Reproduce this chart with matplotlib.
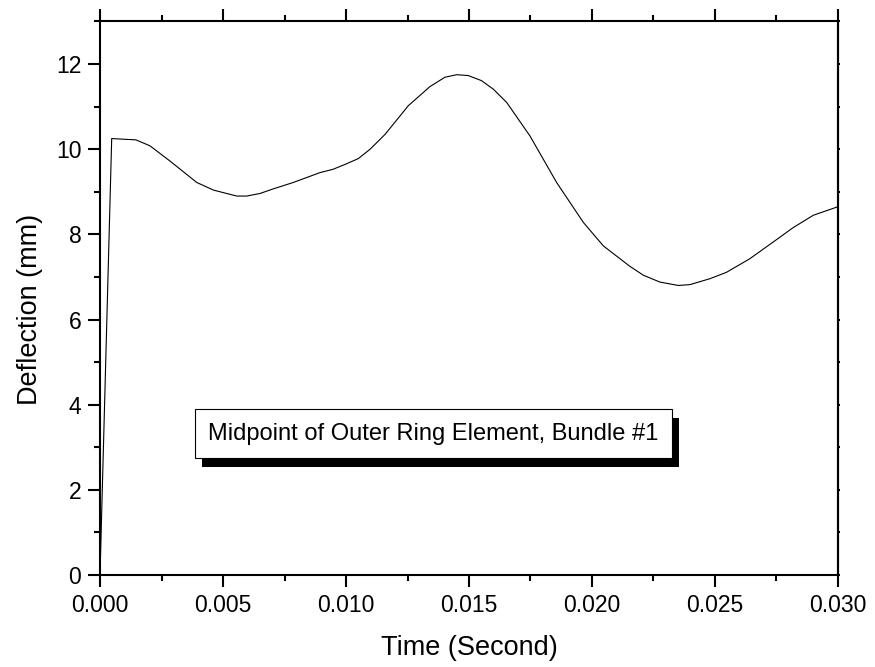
import matplotlib
matplotlib.use("Agg")
import matplotlib.pyplot as plt
import matplotlib.patheffects as pe
from matplotlib import font_manager
from matplotlib.ticker import MultipleLocator

plt.rcParams['font.family'] = ['Liberation Sans', 'DejaVu Sans']

# Midpoint deflection history (time in s, deflection in mm)
time_s = [0.0, 0.000475, 0.00146, 0.00203, 0.00285, 0.00393, 0.00461, 0.00556,
          0.00596, 0.0065, 0.00705, 0.00786, 0.00894, 0.00948, 0.01003, 0.0105,
          0.01098, 0.01159, 0.01253, 0.01341, 0.01402, 0.0145, 0.01497, 0.01551,
          0.01599, 0.01653, 0.01748, 0.01856, 0.01965, 0.02046, 0.02154, 0.02209,
          0.02276, 0.02351, 0.02398, 0.0248, 0.02547, 0.02642, 0.02751, 0.02818,
          0.029, 0.03]
deflection_mm = [0.0, 10.25, 10.22, 10.08, 9.72, 9.22, 9.04, 8.90,
                 8.90, 8.96, 9.07, 9.22, 9.45, 9.53, 9.66, 9.78,
                 10.0, 10.35, 11.02, 11.47, 11.69, 11.75, 11.73, 11.61,
                 11.41, 11.10, 10.31, 9.22, 8.28, 7.73, 7.25, 7.04,
                 6.88, 6.80, 6.82, 6.96, 7.11, 7.43, 7.88, 8.16,
                 8.45, 8.65]

x_ticks = [0.000, 0.005, 0.010, 0.015, 0.020, 0.025, 0.030]
x_tick_labels = ["0.000", "0.005", "0.010", "0.015", "0.020", "0.025", "0.030"]
y_ticks = [0, 2, 4, 6, 8, 10, 12]

fig = plt.figure(figsize=(8.75, 6.67), dpi=100)
ax = fig.add_axes([0.1143, 0.1379, 0.8434, 0.8299])

ax.plot(time_s, deflection_mm, color='black', linewidth=0.8)

ax.set_xlim(0, 0.030)
ax.set_ylim(0, 13)
ax.set_xticks(x_ticks)
ax.set_xticklabels(x_tick_labels)
ax.set_yticks(y_ticks)
ax.xaxis.set_minor_locator(MultipleLocator(0.0025))
ax.yaxis.set_minor_locator(MultipleLocator(1))

for sp in ax.spines.values():
    sp.set_linewidth(1.5)

ax.tick_params(which='both', direction='out', width=1.5, labelsize=16.5,
               top=True, right=False, pad=5)
ax.tick_params(which='major', length=8.5)
ax.tick_params(which='minor', length=4.5)

# small outward marks on the right spine
sec = ax.secondary_yaxis('right')
sec.set_yticks(list(range(0, 14)))
sec.tick_params(direction='out', length=1.5, width=1.5, labelright=False)
sec.spines['right'].set_linewidth(1.5)

ax.set_xlabel("Time (Second)", fontsize=19.5)
ax.set_ylabel("Deflection (mm)", fontsize=19.5)
ax.xaxis.set_label_coords(0.5, -0.108)
ax.yaxis.set_label_coords(-0.077, 0.479)

# condensed face for the caption box when available
installed = {f.name for f in font_manager.fontManager.ttflist}
if 'Liberation Sans Narrow' in installed:
    box_family, box_size, box_pad = 'Liberation Sans Narrow', 20.5, 0.48
else:
    box_family, box_size, box_pad = 'Liberation Sans', 17, 0.58

label = ax.text(0.01356, 3.32, "Midpoint of Outer Ring Element, Bundle #1",
                fontsize=box_size, family=box_family, ha='center', va='center',
                bbox=dict(boxstyle=f'square,pad={box_pad}', fc='white', ec='black', lw=0.8))
label.get_bbox_patch().set_path_effects([
    pe.SimplePatchShadow(offset=(5, -6.5), shadow_rgbFace='black', alpha=1.0),
    pe.Normal(),
])

fig.savefig("out.png", dpi=100)
